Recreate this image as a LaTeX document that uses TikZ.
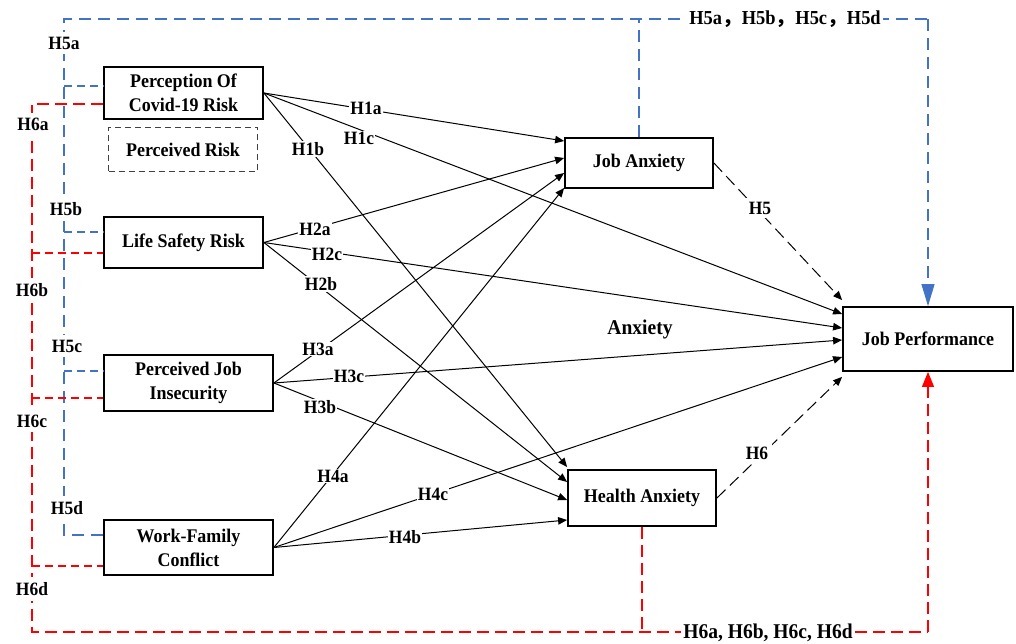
\documentclass[tikz,border=0pt]{standalone}
\usepackage{fontspec}
\setmainfont{Liberation Serif}[FakeStretch=0.93]
\newfontfamily\cjk{Noto Sans CJK SC}
\usetikzlibrary{arrows.meta,calc}
\definecolor{myblue}{RGB}{68,114,196}
\definecolor{myred}{RGB}{255,0,0}
\newcommand\myboxfont{\fontsize{19.3}{24}\selectfont\bfseries}
\newcommand\mylabfont{\fontsize{18.8}{20}\selectfont\bfseries}
\newcommand\mybigfont{\fontsize{21}{22}\selectfont\bfseries}
\newcommand\mytopfont{\fontsize{19.8}{22}\selectfont\bfseries}
\begin{document}
\begin{tikzpicture}[x=1pt,y=-1pt,
  mybox/.style={draw, line width=1.8pt, align=center, font=\myboxfont, inner sep=0pt},
  lab/.style={fill=white, inner sep=1pt, font=\mylabfont},
  sidelab/.style={fill=white, inner xsep=1pt, inner ysep=5pt, font=\mylabfont},
  arr/.style={line width=1pt, -{Triangle[length=9pt,width=7.5pt]}},
  darr/.style={line width=1pt, dash pattern=on 12pt off 6pt, -{Triangle[length=9pt,width=7.5pt]}},
  bl/.style={myblue, line width=1.1pt, dash pattern=on 12pt off 7pt},
  blshort/.style={myblue, line width=1.1pt, dash pattern=on 8pt off 5pt},
  rd/.style={myred, line width=1.1pt, dash pattern=on 12pt off 6pt},
  rdshort/.style={myred, line width=1.1pt, dash pattern=on 8pt off 5pt}]
\useasboundingbox (0,0) rectangle (1016,644);

% boxes
\node[mybox, minimum width=159pt, minimum height=52pt] (pc) at (183.5,93) {Perception Of\\Covid-19 Risk};
\node[draw=black!75, line width=1pt, dash pattern=on 6pt off 4pt, minimum width=149pt, minimum height=44pt, font=\myboxfont] (pr) at (183,149.5) {Perceived Risk};
\node[mybox, minimum width=159pt, minimum height=51pt] (ls) at (183.5,242.5) {Life Safety Risk};
\node[mybox, minimum width=169pt, minimum height=56pt] (pji) at (188.5,383) {Perceived Job\\Insecurity};
\node[mybox, minimum width=169pt, minimum height=55pt] (wfc) at (188.5,547.5) {Work-Family\\Conflict};
\node[mybox, minimum width=148pt, minimum height=50pt] (ja) at (639,163) {Job Anxiety};
\node[mybox, minimum width=170pt, minimum height=64pt] (jp) at (928,339) {Job Performance};
\node[mybox, minimum width=148pt, minimum height=56pt] (ha) at (642,498) {Health Anxiety};

% coordinates for the frame
\coordinate (bTL) at (64,19);
\coordinate (bTR) at (928,19);
\coordinate (rBL) at (32,632);
\coordinate (rBR) at (928,632);

% blue dashed (H5)
\draw[bl] (wfc.west |- 0,535) -| (bTL) -- (bTR);
\draw[bl, -{Triangle[length=22pt,width=13pt]}] (bTR) -- (jp.north);
\draw[bl] (ja.north) -- (ja.north |- bTL);
\draw[blshort] (bTL |- 0,86) -- (pc.west |- 0,86);
\draw[blshort] (bTL |- 0,232) -- (ls.west |- 0,232);
\draw[blshort] (bTL |- 0,371) -- (pji.west |- 0,371);

% red dashed (H6)
\draw[rd] (pc.west |- 0,104) -| (rBL) -- (rBR);
\draw[rd, -{Triangle[length=15pt,width=12pt]}] (rBR) -- (jp.south);
\draw[rd] (ha.south) -- (ha.south |- rBL);
\draw[rdshort] (rBL |- 0,253) -- (ls.west |- 0,253);
\draw[rdshort] (rBL |- 0,398) -- (pji.west |- 0,398);
\draw[rdshort] (rBL |- 0,566) -- (wfc.west |- 0,566);

% solid arrows
\draw[arr] (pc.east) -- (ja.west |- 0,141);
\draw[arr] (pc.east) -- (jp.west |- 0,314);
\draw[arr] (pc.east) -- (ha.west |- 0,467);
\draw[arr] (ls.east) -- (ja.west |- 0,158);
\draw[arr] (ls.east) -- (jp.west |- 0,328);
\draw[arr] (ls.east) -- (ha.west |- 0,482);
\draw[arr] (pji.east) -- (ja.west |- 0,173);
\draw[arr] (pji.east) -- (jp.west |- 0,340);
\draw[arr] (pji.east) -- (ha.west |- 0,500);
\draw[arr] (wfc.east) -- (ja.west |- 0,188);
\draw[arr] (wfc.east) -- (jp.west |- 0,357);
\draw[arr] (wfc.east) -- (ha.west |- 0,520);

% dashed black arrows
\draw[darr] (ja.east) -- ([yshift=6pt]jp.north west);
\draw[darr] (ha.east) -- ([yshift=-5pt]jp.south west);

% labels on arrows
\node[lab] (l1a) at (366,108) {H1a};
\node[lab] (l1c) at (359,138) {H1c};
\node[lab] (l1b) at (308,149) {H1b};
\node[lab] (l2a) at (315,229) {H2a};
\node[lab] (l2c) at (327,254) {H2c};
\node[lab] (l2b) at (321,284) {H2b};
\node[lab] (l3a) at (318,349) {H3a};
\node[lab] (l3c) at (349,376) {H3c};
\node[lab] (l3b) at (320,407) {H3b};
\node[lab] (l4a) at (333,476) {H4a};
\node[lab] (l4c) at (433,494) {H4c};
\node[lab] (l4b) at (405,537) {H4b};
\node[lab, inner sep=4pt] (l5) at (760,208) {H5};
\node[lab, inner sep=4pt] (l6) at (757,453) {H6};

% side labels
\node[sidelab] (s5a) at (64,43) {H5a};
\node[sidelab] (s5b) at (66,209) {H5b};
\node[sidelab] (s5c) at (67,346) {H5c};
\node[sidelab] (s5d) at (67,508) {H5d};
\node[sidelab] (s6a) at (33,124) {H6a};
\node[sidelab] (s6b) at (32,290) {H6b};
\node[sidelab] (s6c) at (32,421) {H6c};
\node[sidelab] (s6d) at (32,589) {H6d};

% frame labels
\node[fill=white, inner sep=2pt, font=\mytopfont] (top) at (785,19) {H5a{\cjk ，}H5b{\cjk ，}H5c{\cjk ，}H5d};
\node[fill=white, inner sep=2pt, font=\mybigfont] (bot) at (768,633) {H6a, H6b, H6c, H6d};

\node[font=\mybigfont] (anx) at (640,329) {Anxiety};
\end{tikzpicture}
\end{document}
